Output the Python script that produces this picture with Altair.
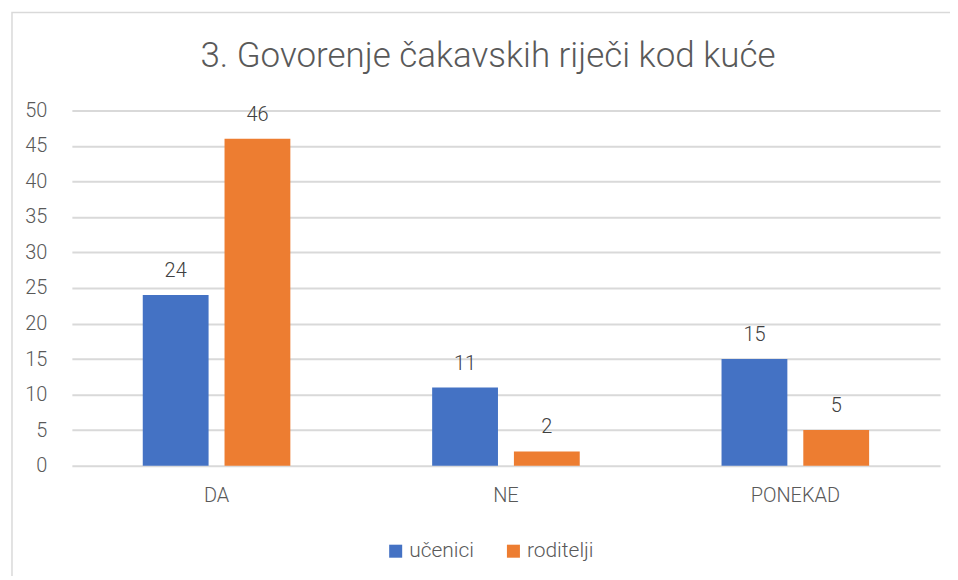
import altair as alt
import pandas as pd

categories = ["DA", "NE", "PONEKAD"]
series = ["učenici", "roditelji"]
ucenici = [24, 11, 15]
roditelji = [46, 2, 5]
colors = ["#4472C4", "#ED7D31"]
y_ticks = list(range(0, 51, 5))
title_text = "3. Govorenje čakavskih riječi kod kuće"

rows = []
for c, u, r in zip(categories, ucenici, roditelji):
    rows.append({"kat": c, "serija": series[0], "v": u})
    rows.append({"kat": c, "serija": series[1], "v": r})
df = pd.DataFrame(rows)

FONT = "Roboto"
GREY = "#595959"

x = alt.X("kat:N", sort=categories, title=None,
          scale=alt.Scale(paddingInner=0.49, paddingOuter=0.245),
          axis=alt.Axis(labelAngle=0, labelFont=FONT, labelFontSize=20, labelColor=GREY,
                        labelFontWeight=300, ticks=False, domain=False, labelPadding=20))
xo = alt.XOffset("serija:N", sort=series, scale=alt.Scale(paddingInner=0.195, paddingOuter=0))
y = alt.Y("v:Q", title=None,
          scale=alt.Scale(domain=[0, 50], nice=False),
          axis=alt.Axis(values=y_ticks, labelFont=FONT, labelFontSize=20, labelColor=GREY,
                        labelFontWeight=300, ticks=False, domain=False, labelPadding=25,
                        gridColor="#D9D9D9", gridWidth=2))
color = alt.Color("serija:N", sort=series,
                  scale=alt.Scale(domain=series, range=colors),
                  legend=alt.Legend(title=None, orient="none", legendX=314, legendY=431,
                                    direction="horizontal", symbolType="square",
                                    symbolSize=170, symbolStrokeWidth=0,
                                    labelFont=FONT, labelFontSize=21, labelColor=GREY,
                                    labelFontWeight=300, columnPadding=28, labelOffset=3))

one = pd.DataFrame({"a": [0]})
border = alt.Chart(one).mark_rect(
    fill=None, stroke="#D9D9D9", strokeWidth=1.5
).encode(x=alt.value(-60), x2=alt.value(885), y=alt.value(-98), y2=alt.value(490))

title = alt.Chart(pd.DataFrame({"t": [title_text]})).mark_text(
    font=FONT, fontSize=35, fontWeight=300, color=GREY, baseline="alphabetic", align="center"
).encode(x=alt.value(417), y=alt.value(-43), text="t:N")

bars = alt.Chart(df).mark_bar().encode(x=x, xOffset=xo, y=y, color=color)
labels = alt.Chart(df).mark_text(
    dy=-24, font=FONT, fontSize=20, fontWeight=300, color="#404040"
).encode(x=x, xOffset=xo, y=y, text="v:Q")

chart = alt.layer(border, title, bars, labels).properties(
    width=870, height=356,
    padding={"left": 64, "top": 102, "right": 10, "bottom": 110},
    autosize=alt.AutoSizeParams(type="none"),
).configure_view(stroke=None)

chart.save("out.html", embed_options={"renderer": "svg", "actions": False})
